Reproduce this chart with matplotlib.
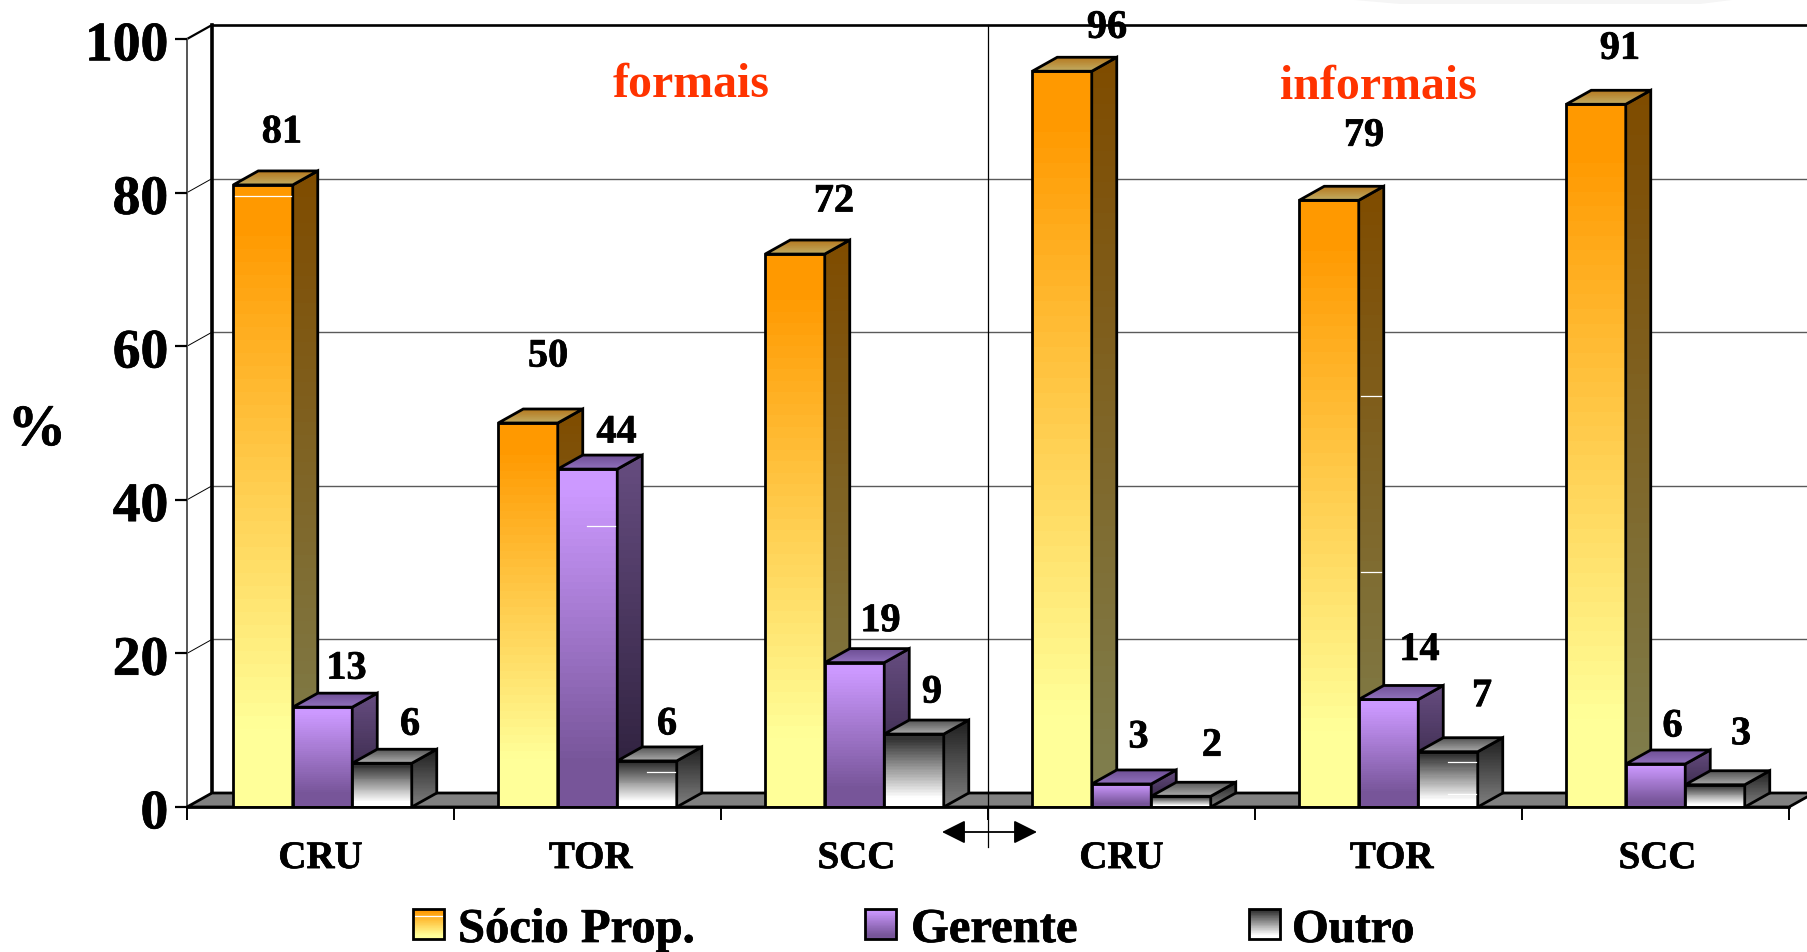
import numpy as np
import matplotlib
matplotlib.use("Agg")
import matplotlib.pyplot as plt
import matplotlib.patheffects as pe
from matplotlib.colors import to_rgb
from matplotlib.patches import Polygon
from matplotlib.transforms import ScaledTranslation

plt.rcParams["font.family"] = ["Liberation Serif", "DejaVu Serif"]
plt.rcParams["font.weight"] = "bold"

# Data
categories = ["CRU", "TOR", "SCC", "CRU", "TOR", "SCC"]
series_names = ["Sócio Prop.", "Gerente", "Outro"]
socio = [81, 50, 72, 95.8, 79, 91.5]
gerente = [13, 44, 18.8, 3, 14, 5.6]
outro = [5.7, 6, 9.5, 1.4, 7.2, 2.9]
socio_labels = [81, 50, 72, 96, 79, 91]
gerente_labels = [13, 44, 19, 3, 14, 6]
outro_labels = [6, 6, 9, 2, 7, 3]
y_ticks = [0, 20, 40, 60, 80, 100]

# Print artefacts in the source: group, series, height, on the side face
streaks = [(0, 0, 79.5, False), (1, 1, 36.6, False), (1, 2, 4.6, False),
           (4, 0, 53.5, True), (4, 0, 30.6, True), (4, 2, 5.8, False), (4, 2, 1.7, False)]

# Layout, in reference pixels
W, H = 1808, 953
X0, X1, Y0, Y100 = 187, 1789, 808, 40
DEPTH_X, DEPTH_Y = 25 / 267, 14 / 7.68
BAR_W = 59.5 / 267
group_shift = [2, 0, 0, 0, 0, 0]
label_shift = [0, 3, 2, 0, 3, 2]
socio_offsets = [(19, 52), (20, 66), (39, 52), (45, 43), (35, 64), (24, 55)]
gerente_offsets = [(24, 38), (29, 36), (26, 41), (17, 46), (31, 49), (17, 37)]
outro_offsets = [(28, 38), (20, 36), (18, 41), (31, 50), (34, 55), (26, 50)]

# Colours: front top/bottom, side top/bottom, lid back/front
socio_cols = ["#FF9900", "#FFFF99", "#7F4C00", "#808050", "#B5781E", "#C2AC62"]
gerente_cols = ["#CC99FF", "#775599", "#664C80", "#2A1E38", "#6E4F95", "#9070BC"]
outro_cols = ["#333333", "#FFFFFF", "#1F1F1F", "#808080", "#555555", "#ABABAB"]
LINE = 2.0
STROKE = [pe.withStroke(linewidth=0.5, foreground="black")]


def px_x(px):
    return (px - X0) / (X1 - X0) * 6


def px_y(py):
    return (Y0 - py) / (Y0 - Y100) * 100


def gradient(c_top, c_bottom, start=0.0, stop=1.0, n=48):
    t = np.clip((np.linspace(0, 1, n) - start) / (stop - start), 0, 1)[:, None, None]
    return (1 - t) * np.array(to_rgb(c_top))[None, None, :] + t * np.array(to_rgb(c_bottom))[None, None, :]


def face(ax, pts, c_top, c_bottom, z, start=0.0, stop=1.0):
    pts = np.array(pts)
    ext = (pts[:, 0].min(), pts[:, 0].max(), pts[:, 1].min(), pts[:, 1].max())
    im = ax.imshow(gradient(c_top, c_bottom, start, stop), extent=ext, origin="upper", aspect="auto",
                   interpolation="nearest", zorder=z)
    outline = Polygon(pts, closed=True, fc="none", ec="black", lw=LINE, zorder=z + 0.1, joinstyle="miter")
    ax.add_patch(outline)
    im.set_clip_path(outline)


def bar3d(ax, left, height, cols, z):
    right = left + BAR_W
    face(ax, [(left, 0), (right, 0), (right, height), (left, height)], cols[0], cols[1], z, 0.06, 0.88)
    face(ax, [(right, 0), (right + DEPTH_X, DEPTH_Y), (right + DEPTH_X, height + DEPTH_Y), (right, height)],
         cols[2], cols[3], z + 0.2)
    face(ax, [(left, height), (right, height), (right + DEPTH_X, height + DEPTH_Y), (left + DEPTH_X, height + DEPTH_Y)],
         cols[4], cols[5], z + 0.4)


fig = plt.figure(figsize=(W / 100, H / 100), dpi=100)
ax = fig.add_axes([X0 / W, 1 - Y0 / H, (X1 - X0) / W, (Y0 - Y100) / H])

# Faint scan shadow at the very top
ax.add_patch(Polygon([(px_x(1343), px_y(0)), (px_x(1740), px_y(0)), (px_x(1700), px_y(5)), (px_x(1400), px_y(5))],
                     closed=True, fc="#F5F5F5", ec="none", clip_on=False, zorder=0.5))

# Back wall, grid and floor
for v in y_ticks[1:-1]:
    ax.plot([DEPTH_X, 6 + DEPTH_X], [v + DEPTH_Y, v + DEPTH_Y], color="#5A5A5A", lw=1, clip_on=False, zorder=1)
for v in y_ticks[1:]:
    ax.plot([0, DEPTH_X], [v, v + DEPTH_Y], color="black", lw=0.7 if v < 100 else 1.6, clip_on=False, zorder=1)
ax.plot([DEPTH_X, 6 + DEPTH_X], [100 + DEPTH_Y, 100 + DEPTH_Y], color="black", lw=1.9, clip_on=False, zorder=1.2)
ax.plot([DEPTH_X, DEPTH_X], [DEPTH_Y, 100 + DEPTH_Y], color="black", lw=2.6, clip_on=False, zorder=1.2)
ax.add_patch(Polygon([(0, 0), (6, 0), (6 + DEPTH_X, DEPTH_Y), (DEPTH_X, DEPTH_Y)], closed=True,
                     fc="#808080", ec="black", lw=LINE, clip_on=False, zorder=2))
ax.plot([3, 3], [px_y(848), 100 + DEPTH_Y], color="black", lw=0.9, clip_on=False, zorder=2.5)

# Bars
z = 3
lefts = {}
for i in range(6):
    center = i + 0.5 + group_shift[i] / 267
    rows = [(socio, socio_labels, socio_offsets, socio_cols),
            (gerente, gerente_labels, gerente_offsets, gerente_cols),
            (outro, outro_labels, outro_offsets, outro_cols)]
    for j, (vals, labels, offsets, cols) in enumerate(rows):
        left = center - 1.5 * BAR_W + j * BAR_W
        lefts[(i, j)] = left
        bar3d(ax, left, vals[i], cols, z)
        z += 1
        ax.annotate(str(labels[i]), (left + BAR_W / 2, vals[i]), xytext=offsets[i], textcoords="offset pixels",
                    ha="center", va="center", fontsize=29, fontweight="bold", color="black",
                    annotation_clip=False, zorder=50, path_effects=STROKE)

for i, j, v, on_side in streaks:
    left = lefts[(i, j)]
    if on_side:
        xs = [left + BAR_W + 0.01, left + BAR_W + DEPTH_X - 0.01]
    else:
        xs = [left + BAR_W * (0.5 if j else 0.03), left + BAR_W * 0.97]
    ax.plot(xs, [v, v], color="white", lw=0.9, zorder=45)

# Axes
ax.set_xlim(0, 6)
ax.set_ylim(0, 100)
ax.set_facecolor("white")
for side in ["top", "right"]:
    ax.spines[side].set_visible(False)
ax.spines["left"].set_color("#555555")
ax.spines["left"].set_linewidth(1.4)
ax.spines["left"].set_zorder(1)
ax.spines["bottom"].set_linewidth(1.9)
ax.spines["bottom"].set_zorder(40)
ax.set_yticks(y_ticks)
ax.set_yticklabels([str(v) for v in y_ticks])
ax.tick_params(axis="y", length=9, width=1.6, pad=4.5, labelsize=40)
ax.set_xticks(range(7))
ax.set_xticklabels([])
ax.set_xticks(np.arange(6) + 0.5 + np.array(label_shift) / 267, minor=True)
ax.set_xticklabels(categories, minor=True)
ax.tick_params(axis="x", which="major", length=9.5, width=1.4)
ax.tick_params(axis="x", which="minor", length=0, pad=23.8, labelsize=28)
shift_down = ScaledTranslation(0, -1.3 / 100, fig.dpi_scale_trans)
for lab in ax.get_yticklabels():
    lab.set_transform(lab.get_transform() + shift_down)
    lab.set_path_effects(STROKE)
for lab in ax.get_xticklabels(minor=True):
    lab.set_path_effects(STROKE)

# Double arrow under the separator
ax.annotate("", xy=(942, H - 833), xytext=(1037, H - 833), xycoords="figure pixels", textcoords="figure pixels",
            arrowprops=dict(arrowstyle="<|-|>,head_length=0.72,head_width=0.36", mutation_scale=20,
                            color="black", lw=1.3, shrinkA=0, shrinkB=0), annotation_clip=False)

# Texts
fig.text(691 / W, 1 - 85 / H, "formais", color="#FF3300", fontsize=34.5, ha="center", va="center")
fig.text(1378 / W, 1 - 87 / H, "informais", color="#FF3300", fontsize=34.5, ha="center", va="center")
fig.text(37 / W, 1 - 432 / H, "%", color="black", fontsize=42, ha="center", va="center", path_effects=STROKE)

# Legend
swatch_x = [413, 865, 1249]
text_x = [458, 911, 1292]
for name, cols, sx, tx in zip(series_names, [socio_cols, gerente_cols, outro_cols], swatch_x, text_x):
    x0, x1, y0, y1 = px_x(sx), px_x(sx + 31), px_y(940), px_y(910)
    ax.imshow(gradient(cols[0], cols[1], 0.06, 0.88), extent=(x0, x1, y0, y1), origin="upper", aspect="auto",
              interpolation="nearest", clip_on=False, zorder=3)
    ax.add_patch(Polygon([(x0, y0), (x1, y0), (x1, y1), (x0, y1)], closed=True, fc="none", ec="black",
                         lw=LINE, clip_on=False, zorder=4))
    fig.text(tx / W, 1 - 943 / H, name, fontsize=35 if name != "Outro" else 34, ha="left", va="baseline",
             path_effects=STROKE)
ax.plot([px_x(415), px_x(442)], [px_y(917), px_y(917)], color="white", lw=0.9, clip_on=False, zorder=3.5)
ax.set_xlim(0, 6)
ax.set_ylim(0, 100)

fig.savefig("out.png", dpi=100)
